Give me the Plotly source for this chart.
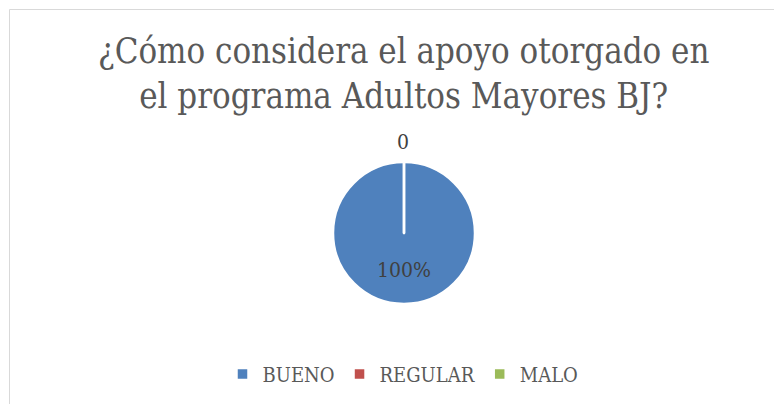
import plotly.graph_objects as go

# datos
categorias = ['BUENO', 'REGULAR', 'MALO']
valores = [1, 0, 0]
colores = ['#4F81BD', '#C0504D', '#9BBB59']

W, H = 782, 404
OFF = 8  # margen del body de la pagina
FUENTE = 'DejaVu Serif Condensed'


def px_x(x):
    return (x - OFF) / W


def px_y(y):
    return (H - (y - OFF)) / H


total = sum(valores)
pct = [v / total * 100 for v in valores]

fig = go.Figure(go.Pie(
    labels=categorias,
    values=valores,
    sort=False,
    direction='clockwise',
    rotation=0,
    marker=dict(colors=colores, line=dict(color='white', width=2.5)),
    textinfo='none',
    hoverinfo='label+percent',
    domain=dict(x=[px_x(333), px_x(475)], y=[px_y(304), px_y(162)]),
))

# etiquetas de datos
fig.add_annotation(x=px_x(404), y=px_y(270), xref='paper', yref='paper',
                   text=f'{pct[0]:.0f}%', showarrow=False,
                   font=dict(family=FUENTE, size=21, color='#404040'))
fig.add_annotation(x=px_x(403), y=px_y(156), xref='paper', yref='paper',
                   yanchor='bottom',
                   text=f'{valores[1]}', showarrow=False,
                   font=dict(family=FUENTE, size=21, color='#404040'))

# titulo
fig.add_annotation(x=px_x(403), y=px_y(29), xref='paper', yref='paper',
                   xanchor='center', yanchor='top',
                   text='¿Cómo considera el apoyo otorgado en<br>el programa Adultos Mayores BJ?',
                   showarrow=False,
                   font=dict(family=FUENTE, size=34.5, color='#595959'))

# marco del grafico
fig.add_shape(type='rect', xref='paper', yref='paper',
              x0=px_x(9.5), x1=1.1, y0=-0.1, y1=px_y(9.5),
              line=dict(color='#D9D9D9', width=1))

fig.update_layout(
    width=W, height=H,
    margin=dict(l=0, r=0, t=0, b=0),
    paper_bgcolor='white',
    plot_bgcolor='white',
    showlegend=True,
    legend=dict(orientation='h', x=px_x(403), xanchor='center', y=px_y(374), yanchor='middle',
                font=dict(family=FUENTE, size=20, color='#595959'),
                itemwidth=30, traceorder='normal'),
)

fig.write_html('out.html')
